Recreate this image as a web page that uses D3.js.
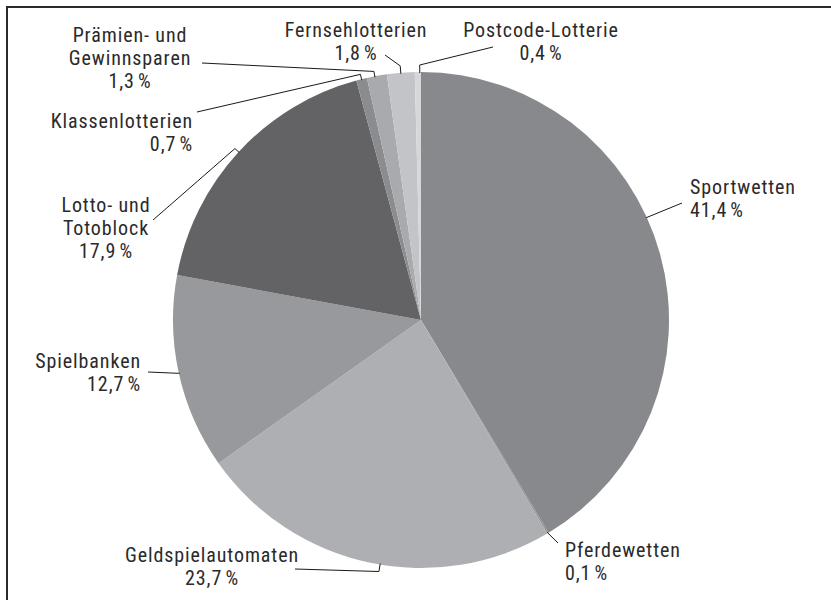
<!DOCTYPE html>
<style>
  body { margin: 0; background: #fff; }
  svg {
    font-family: "Roboto Condensed", "Liberation Sans", sans-serif;
    font-size: 20px;
    letter-spacing: 0.9px;
  }
</style>
<svg width="831" height="600"></svg>
<script src="https://d3js.org/d3.v7.min.js"></script>
<script>

  // shares of the gambling market, clockwise from 12 o'clock
  var categories = ["Sportwetten", "Pferdewetten", "Geldspielautomaten", "Spielbanken",
    "Lotto- und\nTotoblock", "Klassenlotterien", "Prämien- und\nGewinnsparen",
    "Fernsehlotterien", "Postcode-Lotterie"];
  var shares = [41.4, 0.1, 23.7, 12.7, 17.9, 0.7, 1.3, 1.8, 0.4];
  var colors = ["#88898d", "#8f9094", "#aeafb2", "#98999d", "#636366",
    "#8b8c8f", "#a9aaad", "#c3c4c7", "#d6d7d9"];

  // label placement: text anchor, x, first baseline, line start, radial tick, where on the slice
  var labels = [
    { anchor: "start",  x: 690, y: 194, lx: 682, ly: 203, tick: 0, at: 0.44 },
    { anchor: "start",  x: 565, y: 557, lx: 558, ly: 543, tick: 0, at: 0.5 },
    { anchor: "middle", x: 212, y: 562, lx: 295, ly: 569, tick: 7, at: 0.47 },
    { anchor: "end",    x: 141, y: 368, lx: 148, ly: 372, tick: 0, at: 0.5 },
    { anchor: "middle", x: 106, y: 212, lx: 153, ly: 220, tick: 5, at: 0.5 },
    { anchor: "end",    x: 193, y: 128, lx: 197, ly: 112, tick: 5, at: 0.5 },
    { anchor: "middle", x: 130, y: 42,  lx: 202, ly: 63,  tick: 5, at: 0.4 },
    { anchor: "middle", x: 356, y: 37,  lx: 385, ly: 55,  tick: 7, at: 0.5 },
    { anchor: "middle", x: 541, y: 37,  lx: 493, ly: 47,  tick: 7, at: 0.8 }
  ];

  var svg = d3.select("svg"),
    cx = 421, cy = 320, radius = 248;

  var fmt = function (v) { return d3.format(".1f")(v).replace(".", ",") + "\u202F%"; };

  // frame (left and top edge only, the rest is cut off)
  svg.append("path")
    .attr("d", "M7,600V7H831")
    .attr("fill", "none")
    .attr("stroke", "#2a2a2a")
    .attr("stroke-width", 2);

  var pie = d3.pie().sort(null).value(function (d) { return d; });
  var arcs = pie(shares);
  var arc = d3.arc().innerRadius(0).outerRadius(radius);

  var g = svg.append("g").attr("transform", "translate(" + cx + "," + cy + ")");

  g.selectAll("path")
    .data(arcs)
    .enter().append("path")
    .attr("d", arc)
    .attr("fill", function (d, i) { return colors[i]; });

  function polar(a, r) {
    return [cx + r * Math.sin(a), cy - r * Math.cos(a)];
  }

  // leader lines
  svg.append("g").selectAll("path")
    .data(arcs)
    .enter().append("path")
    .attr("fill", "none")
    .attr("stroke", "#1a1a1a")
    .attr("stroke-width", 1)
    .attr("d", function (d, i) {
      var l = labels[i],
        a = d.startAngle + (d.endAngle - d.startAngle) * l.at,
        edge = polar(a, radius - 1),
        elbow = polar(a, radius + l.tick);
      return d3.line()([[l.lx, l.ly], elbow, edge]);
    });

  // label texts
  var text = svg.append("g").selectAll("text")
    .data(arcs)
    .enter().append("text")
    .attr("fill", "#2b2a2b")
    .attr("text-anchor", function (d, i) { return labels[i].anchor; });

  text.selectAll("tspan")
    .data(function (d, i) { return categories[i].split("\n").concat([fmt(shares[i])]).map(function (t) { return { t: t, i: i }; }); })
    .enter().append("tspan")
    .attr("x", function (d) { return labels[d.i].x; })
    .attr("y", function (d, j) { return labels[d.i].y + j * 23; })
    .text(function (d) { return d.t; });

</script>
